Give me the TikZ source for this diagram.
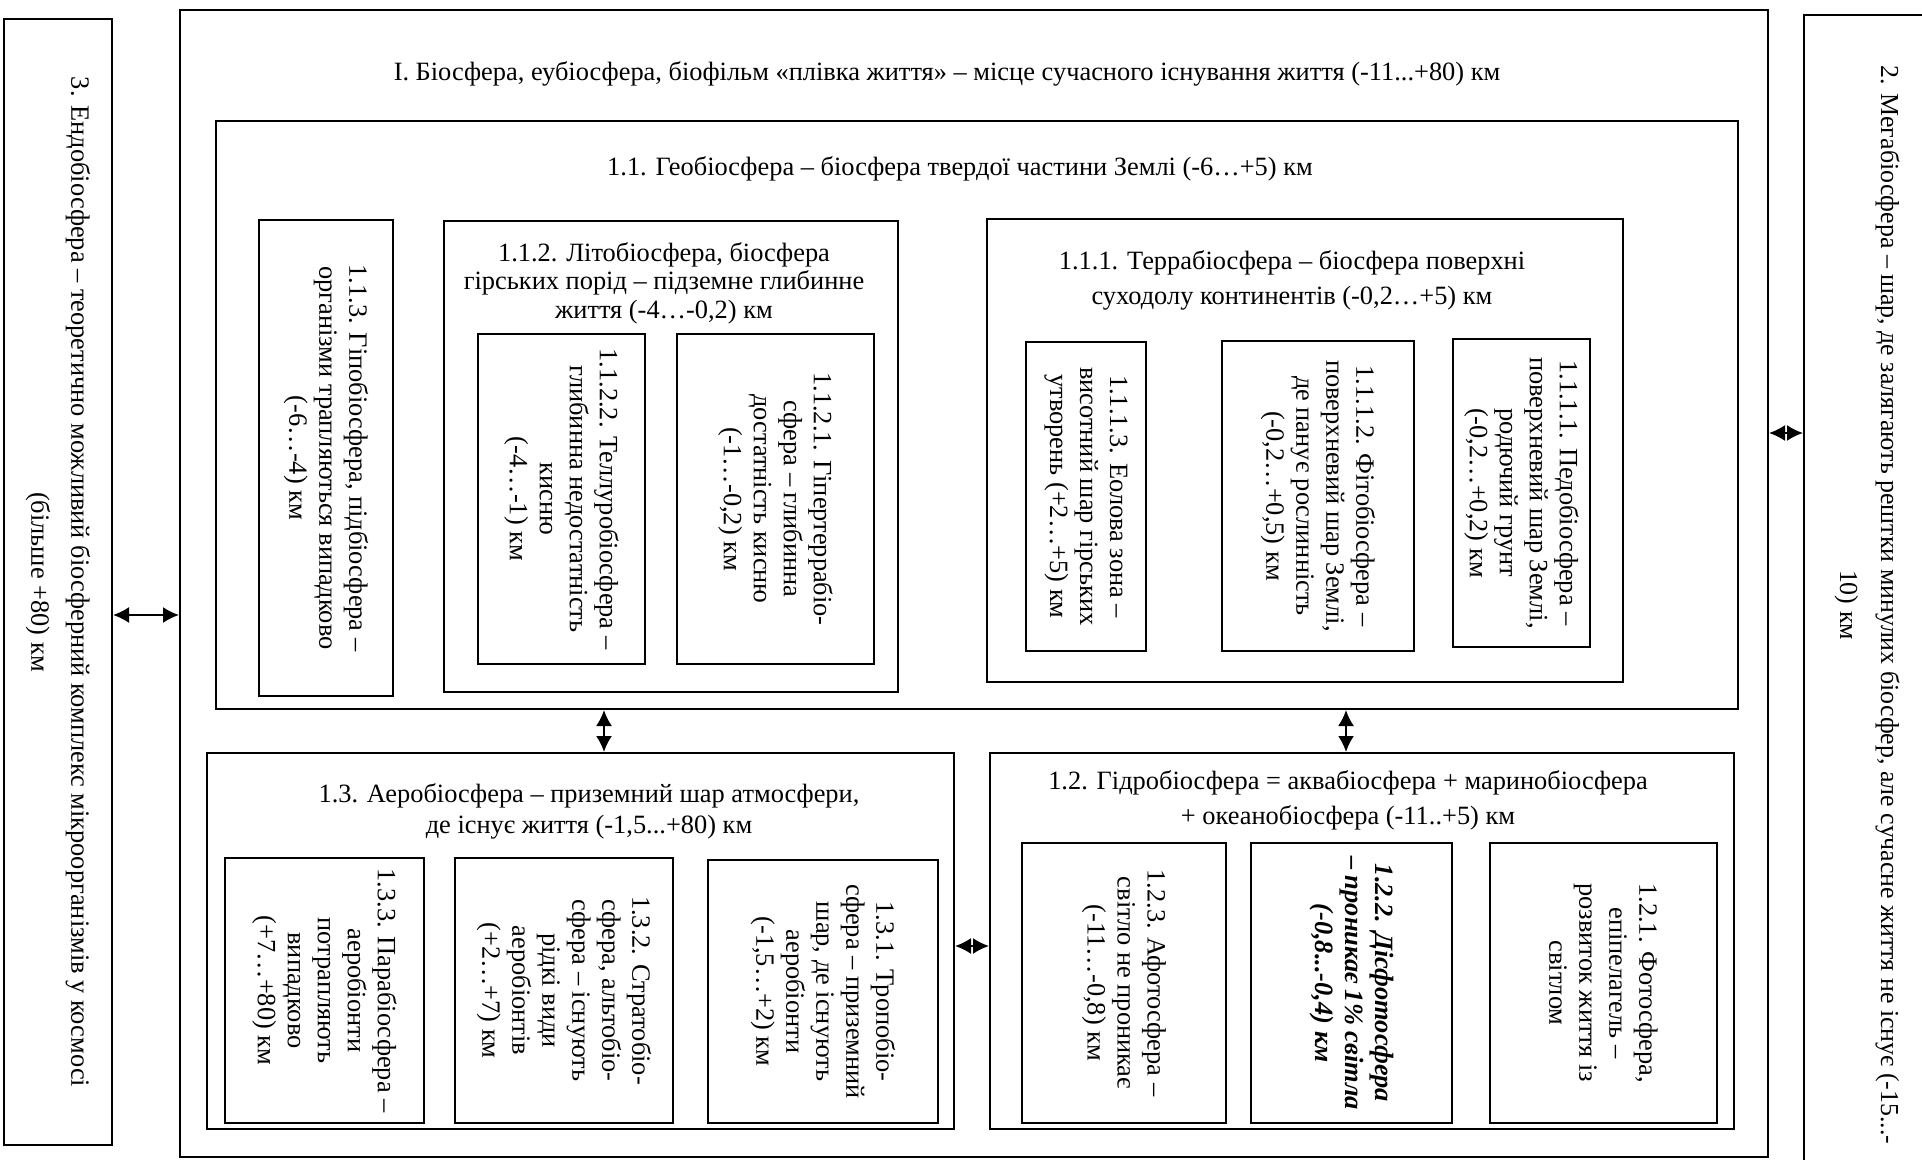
\documentclass[tikz,border=0pt]{standalone}
\usepackage{fontspec}
\setmainfont{Liberation Serif}
\usetikzlibrary{arrows.meta}
\tikzset{frame/.style={draw, line width=1pt, inner sep=0pt}}
\tikzset{vbox/.style={frame, rotate=-90, align=center}}
\tikzset{title/.style={align=center, inner sep=0pt}}
\tikzset{link/.style={{Latex[length=8pt,width=8pt]}-{Latex[length=8pt,width=8pt]}, line width=1pt}}

\begin{document}
\begin{tikzpicture}[x=0.5pt, y=-0.5pt, font=\fontsize{13.2}{15}\selectfont]
\useasboundingbox (0,0) rectangle (1922,1160);

% outer level
\node[vbox, minimum width=563pt, minimum height=54pt, font=\fontsize{13.2}{20}\selectfont] (endo) at (58,582) {3. Ендобіосфера – теоретично можливий біосферний комплекс мікроорганізмів у космосі\\(більше +80) км};
\node[frame, minimum width=794pt, minimum height=573.5pt] (bio) at (974,583.5) {};
\node[vbox, minimum width=590pt, minimum height=63pt, font=\fontsize{12.95}{20.5}\selectfont] (meta) at (1867,605) {2. Мегабіосфера – шар, де залягають рештки минулих біосфер, але сучасне життя не існує (-15...-\\10) км};
\node[title] (bioT) at (947,74) {I. Біосфера, еубіосфера, біофільм «плівка життя» – місце сучасного існування життя (-11...+80) км};

% 1.1
\node[frame, minimum width=761pt, minimum height=294pt] (geo) at (977,415) {};
\node[title] (geoT) at (960,169) {1.1. Геобіосфера – біосфера твердої частини Землі (-6…+5) км};

\node[vbox, minimum width=238pt, minimum height=67pt] (hypo) at (326,458) {1.1.3. Гіпобіосфера, підбіосфера –\\організми трапляються випадково\\(-6…-4) км};

\node[frame, minimum width=227pt, minimum height=235.5pt] (lito) at (671,456.5) {};
\node[title, font=\fontsize{13.2}{14.3}\selectfont] (litoT) at (664,283) {1.1.2. Літобіосфера, біосфера\\гірських порід – підземне глибинне\\життя (-4…-0,2) км};
\node[vbox, minimum width=165pt, minimum height=83.5pt] (tellur) at (561.5,499) {1.1.2.2. Теллуробіосфера –\\глибинна недостатність\\кисню\\(-4…-1) км};
\node[vbox, minimum width=165pt, minimum height=98.5pt] (hterra) at (775.5,499) {1.1.2.1. Гіпертеррабіо-\\сфера – глибинна\\достатність кисню\\(-1…-0,2) км};

\node[frame, minimum width=318pt, minimum height=231.5pt] (terra) at (1305,450.5) {};
\node[title, font=\fontsize{13.2}{17.5}\selectfont] (terraT) at (1292,280.5) {1.1.1. Террабіосфера – біосфера поверхні\\суходолу континентів (-0,2…+5) км};
\node[vbox, minimum width=154.5pt, minimum height=60pt] (eol) at (1086,496.5) {1.1.1.3. Еолова зона –\\висотний шар гірських\\утворень (+2…+5) км};
\node[vbox, minimum width=155pt, minimum height=96pt] (phyto) at (1318,496) {1.1.1.2. Фітобіосфера –\\поверхневий шар Землі,\\де панує рослинність\\(-0,2…+0,5) км};
\node[vbox, minimum width=154pt, minimum height=68.5pt] (pedo) at (1521.5,493) {1.1.1.1. Педобіосфера –\\поверхневий шар Землі,\\родючий грунт\\(-0,2…+0,2) км};

% 1.3
\node[frame, minimum width=373.5pt, minimum height=188pt] (aero) at (580.5,941) {};
\node[title, font=\fontsize{13.2}{15.5}\selectfont] (aeroT) at (589,811) {1.3. Аеробіосфера – приземний шар атмосфери,\\де існує життя (-1,5...+80) км};
\node[vbox, minimum width=132.5pt, minimum height=99.5pt] (para) at (324.5,990.5) {1.3.3. Парабіосфера –\\аеробіонти\\потрапляють\\випадково\\(+7…+80) км};
\node[vbox, minimum width=132.5pt, minimum height=109pt] (strato) at (564,990.5) {1.3.2. Стратобіо-\\сфера, альтобіо-\\сфера – існують\\рідкі види\\аеробіонтів\\(+2…+7) км};
\node[vbox, minimum width=131.5pt, minimum height=115pt] (tropo) at (823,991.5) {1.3.1. Тропобіо-\\сфера – приземний\\шар, де існують\\аеробіонти\\(-1,5…+2) км};

% 1.2
\node[frame, minimum width=372pt, minimum height=188pt] (hydro) at (1362,941) {};
\node[title, font=\fontsize{13.2}{17.5}\selectfont] (hydroT) at (1348,800.5) {1.2. Гідробіосфера = аквабіосфера + маринобіосфера\\+ океанобіосфера (-11..+5) км};
\node[vbox, minimum width=140pt, minimum height=102pt] (aphoto) at (1124,983) {1.2.3. Афотосфера –\\світло не проникає\\(-11…-0,8) км};
\node[vbox, minimum width=140pt, minimum height=100.5pt, font=\fontsize{13.2}{15}\selectfont\bfseries\itshape] (dphoto) at (1351.5,983) {1.2.2. Дісфотосфера\\– проникає 1\% світла\\(-0,8...-0,4) км};
\node[vbox, minimum width=140pt, minimum height=113.5pt] (photo) at (1603.5,983) {1.2.1. Фотосфера,\\епіпелагель –\\розвиток життя із\\світлом};

% connectors
\coordinate (l1) at (0,615);
\coordinate (r1) at (0,433);
\coordinate (v1) at (604,0);
\coordinate (v2) at (1346,0);
\coordinate (h1) at (0,946);
\draw[link] (endo.north |- l1) -- (bio.west |- l1);
\draw[link] (bio.east |- r1) -- (meta.south |- r1);
\draw[link] (geo.south -| v1) -- (aero.north -| v1);
\draw[link] (geo.south -| v2) -- (hydro.north -| v2);
\draw[link] (aero.east |- h1) -- (hydro.west |- h1);

\end{tikzpicture}
\end{document}
